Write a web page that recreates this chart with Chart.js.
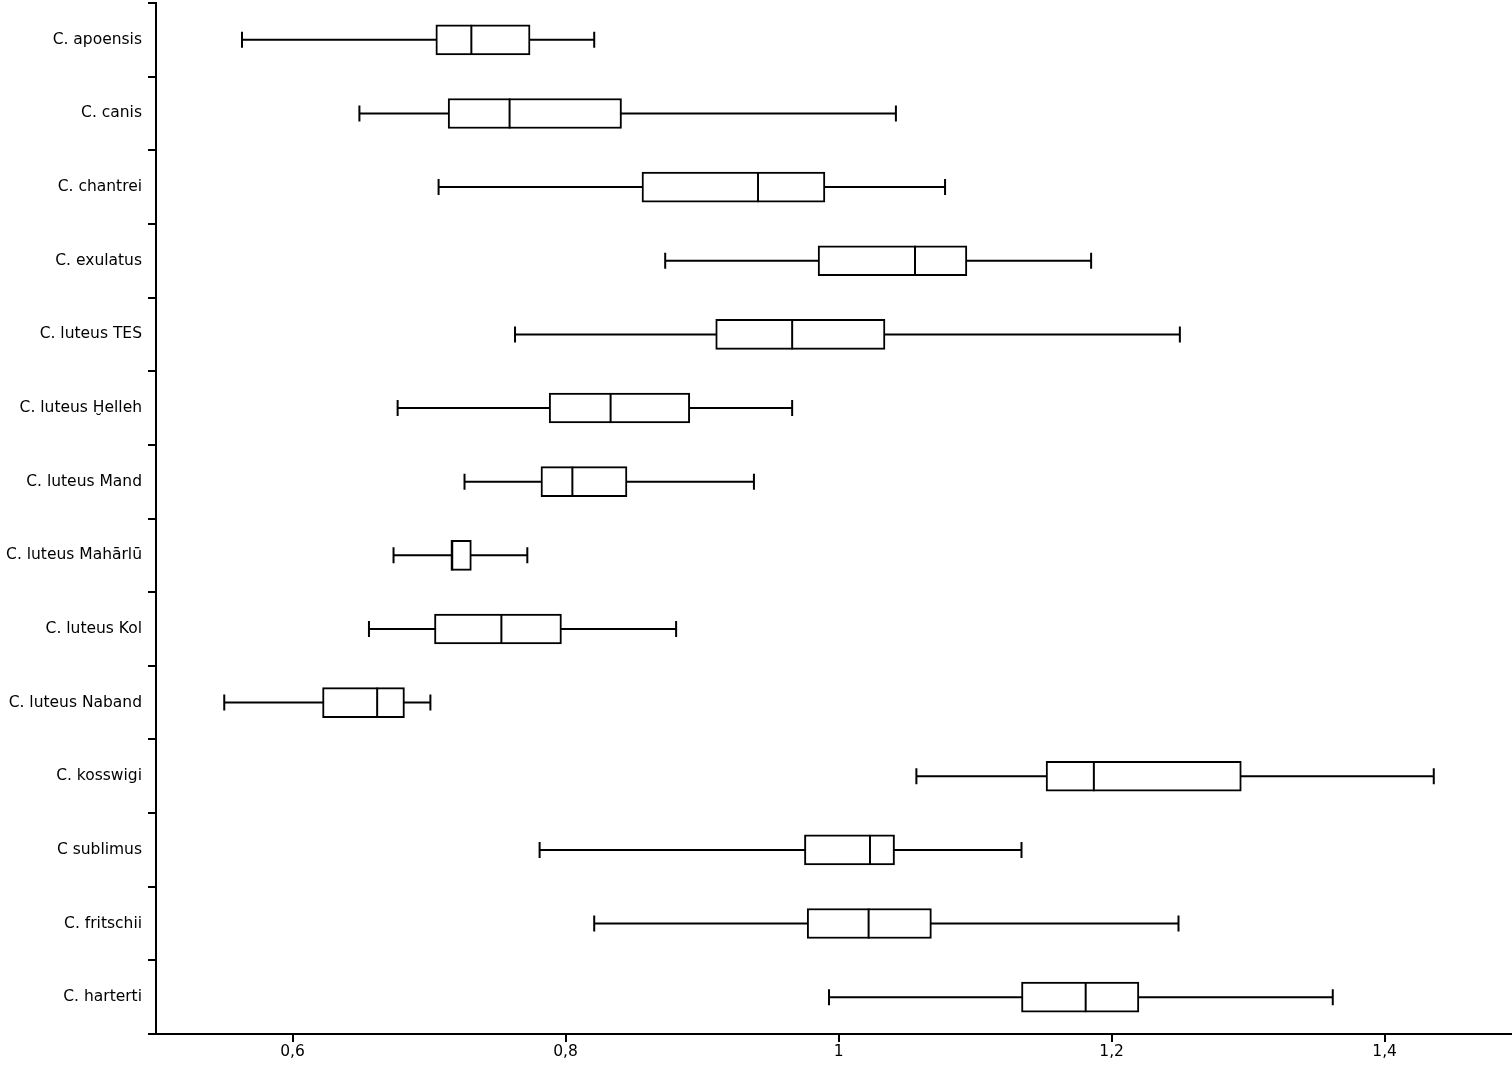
<!DOCTYPE html>
<html>
<head>
<meta charset="utf-8">
<script src="https://cdn.jsdelivr.net/npm/chart.js@4/dist/chart.umd.min.js"></script>
<style>
    body { margin: 0; background: #ffffff; }
    #box_wrap { width: 1512px; height: 1066px; position: relative; }
</style>
</head>
<body>
<div id="box_wrap"><canvas id="box_chart"></canvas></div>
<script>
const box_species = [
    'C. apoensis', 'C. canis', 'C. chantrei', 'C. exulatus', 'C. luteus TES',
    'C. luteus Ḫelleh', 'C. luteus Mand', 'C. luteus Mahārlū', 'C. luteus Kol',
    'C. luteus Naband', 'C. kosswigi', 'C sublimus', 'C. fritschii', 'C. harterti',
];
const box_min = [0.563, 0.649, 0.707, 0.873, 0.763, 0.677, 0.726, 0.674, 0.656, 0.550, 1.057, 0.781, 0.821, 0.993];
const box_q1 = [0.705, 0.714, 0.856, 0.985, 0.910, 0.788, 0.782, 0.716, 0.704, 0.622, 1.152, 0.975, 0.977, 1.134];
const box_median = [0.731, 0.759, 0.941, 1.056, 0.966, 0.833, 0.805, 0.717, 0.753, 0.662, 1.187, 1.023, 1.022, 1.181];
const box_q3 = [0.774, 0.841, 0.990, 1.094, 1.034, 0.891, 0.845, 0.731, 0.797, 0.682, 1.295, 1.041, 1.068, 1.220];
const box_max = [0.821, 1.042, 1.078, 1.185, 1.250, 0.966, 0.938, 0.772, 0.881, 0.701, 1.436, 1.134, 1.249, 1.362];
const x_tick_values = [0.6, 0.8, 1, 1.2, 1.4];

const box_ink = '#000000';
const box_font = { family: 'DejaVu Sans', size: 15.5 };

// whiskers behind the boxes, medians on top
const box_whisker_plugin = {
    id: 'box_whisker_plugin',
    beforeDatasetsDraw(chart) {
        const ctx = chart.ctx;
        const x_scale = chart.scales.x;
        const y_scale = chart.scales.y;
        ctx.save();
        ctx.strokeStyle = box_ink;
        ctx.lineWidth = 2;
        box_species.forEach(function (_, idx) {
            const y = y_scale.getPixelForValue(idx);
            const x_lo = x_scale.getPixelForValue(box_min[idx]);
            const x_hi = x_scale.getPixelForValue(box_max[idx]);
            ctx.beginPath();
            ctx.moveTo(x_lo, y);
            ctx.lineTo(x_hi, y);
            ctx.moveTo(x_lo, y - 8);
            ctx.lineTo(x_lo, y + 8);
            ctx.moveTo(x_hi, y - 8);
            ctx.lineTo(x_hi, y + 8);
            ctx.stroke();
        });
        ctx.restore();
    },
    afterDatasetsDraw(chart) {
        const ctx = chart.ctx;
        const x_scale = chart.scales.x;
        const y_scale = chart.scales.y;
        ctx.save();
        ctx.strokeStyle = box_ink;
        ctx.lineWidth = 2;
        box_species.forEach(function (_, idx) {
            const y = y_scale.getPixelForValue(idx);
            const x_med = x_scale.getPixelForValue(box_median[idx]);
            ctx.beginPath();
            ctx.moveTo(x_med, y - 15);
            ctx.lineTo(x_med, y + 15);
            ctx.stroke();
        });
        ctx.restore();
    },
};

new Chart(document.getElementById('box_chart').getContext('2d'), {
    type: 'bar',
    data: {
        labels: box_species,
        datasets: [
            {
                label: 'IQR',
                data: box_q1.map(function (q1, idx) { return [q1, box_q3[idx]]; }),
                backgroundColor: '#ffffff',
                borderColor: box_ink,
                borderWidth: 2,
                borderSkipped: false,
                barThickness: 30,
            },
        ],
    },
    options: {
        indexAxis: 'y',
        responsive: true,
        maintainAspectRatio: false,
        animation: false,
        layout: { padding: { top: 3, right: 0, bottom: 0, left: 0 } },
        plugins: {
            legend: { display: false },
            tooltip: { enabled: false },
        },
        scales: {
            x: {
                type: 'linear',
                min: 0.5,
                max: 1.4933,
                afterBuildTicks(scale) {
                    scale.ticks = x_tick_values.map(function (v) { return { value: v }; });
                },
                afterFit(scale) {
                    scale.height = 32;
                    scale.paddingLeft = 0;
                    scale.paddingRight = 0;
                },
                ticks: {
                    color: box_ink,
                    font: box_font,
                    padding: 1,
                    maxRotation: 0,
                    callback: function (value) {
                        return String(value).replace('.', ',');
                    },
                },
                grid: {
                    drawOnChartArea: false,
                    color: box_ink,
                    lineWidth: 2,
                    tickLength: 8,
                },
                border: { display: true, color: box_ink, width: 2 },
            },
            y: {
                type: 'category',
                offset: true,
                afterFit(scale) {
                    scale.width = 156;
                    scale.paddingTop = 0;
                    scale.paddingBottom = 0;
                },
                ticks: {
                    color: box_ink,
                    font: box_font,
                    padding: 6,
                },
                grid: {
                    offset: true,
                    drawOnChartArea: false,
                    color: box_ink,
                    lineWidth: 2,
                    tickLength: 8,
                },
                border: { display: true, color: box_ink, width: 2 },
            },
        },
    },
    plugins: [box_whisker_plugin],
});
</script>
</body>
</html>
